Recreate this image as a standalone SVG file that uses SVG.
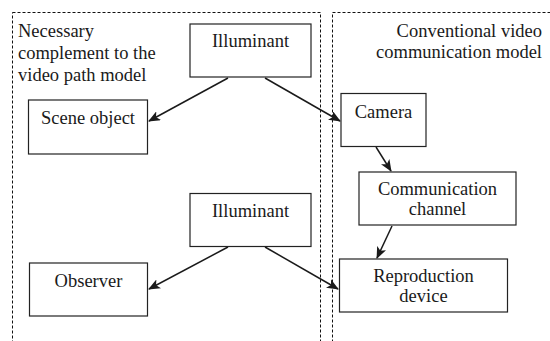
<svg xmlns="http://www.w3.org/2000/svg" width="550" height="341" viewBox="0 0 550 341" font-family="'Liberation Serif', serif">
<style>
text{font-family:'Liberation Serif',serif;font-size:18.5px;fill:#1a1a1a}
.node rect{fill:#fff;stroke:#222;stroke-width:1.2}
.region{fill:none;stroke:#111;stroke-width:1;stroke-dasharray:3 2}
.conn line{stroke:#1a1a1a;stroke-width:1.5;marker-end:url(#arr)}
.m{text-anchor:middle}
</style>
<defs>
<marker id="arr" viewBox="0 0 12 10" refX="11" refY="5" markerWidth="12" markerHeight="10" markerUnits="userSpaceOnUse" orient="auto">
<path d="M0,0 L12,5 L0,10 L3,5 Z" fill="#1a1a1a"/>
</marker>
</defs>
<g id="region-left">
<rect class="region" x="12.5" y="12.5" width="308" height="340"/>
<text x="18" y="37">Necessary</text>
<text x="18" y="59">complement to the</text>
<text x="18" y="81">video path model</text>
</g>
<g id="region-right">
<rect class="region" x="332.5" y="12.5" width="240" height="340"/>
<text x="542" y="37" text-anchor="end">Conventional video</text>
<text x="542" y="58" text-anchor="end">communication model</text>
</g>
<g class="conn" id="connectors">
<line x1="228" y1="78" x2="149" y2="121"/>
<line x1="265" y1="78" x2="340" y2="121"/>
<line x1="376" y1="147" x2="391" y2="171"/>
<line x1="392" y1="226" x2="377" y2="258"/>
<line x1="228" y1="247" x2="149" y2="289"/>
<line x1="265" y1="247" x2="338" y2="289"/>
</g>
<g class="node" id="illuminant1">
<rect x="190" y="24" width="121" height="53"/>
<text class="m" x="250.5" y="47">Illuminant</text>
</g>
<g class="node" id="scene-object">
<rect x="28.5" y="100" width="119" height="54"/>
<text class="m" x="88" y="124">Scene object</text>
</g>
<g class="node" id="camera">
<rect x="341" y="93.5" width="85" height="53"/>
<text class="m" x="383.5" y="118">Camera</text>
</g>
<g class="node" id="channel">
<rect x="359" y="172" width="157" height="53"/>
<text class="m" x="437.5" y="195">Communication</text>
<text class="m" x="437.5" y="215">channel</text>
</g>
<g class="node" id="illuminant2">
<rect x="190" y="193.5" width="121" height="53"/>
<text class="m" x="250.5" y="217">Illuminant</text>
</g>
<g class="node" id="observer">
<rect x="29.5" y="263" width="118" height="53"/>
<text class="m" x="88.5" y="287">Observer</text>
</g>
<g class="node" id="reproduction">
<rect x="339.5" y="259" width="168" height="53"/>
<text class="m" x="423.5" y="282">Reproduction</text>
<text class="m" x="423.5" y="302">device</text>
</g>
</svg>
